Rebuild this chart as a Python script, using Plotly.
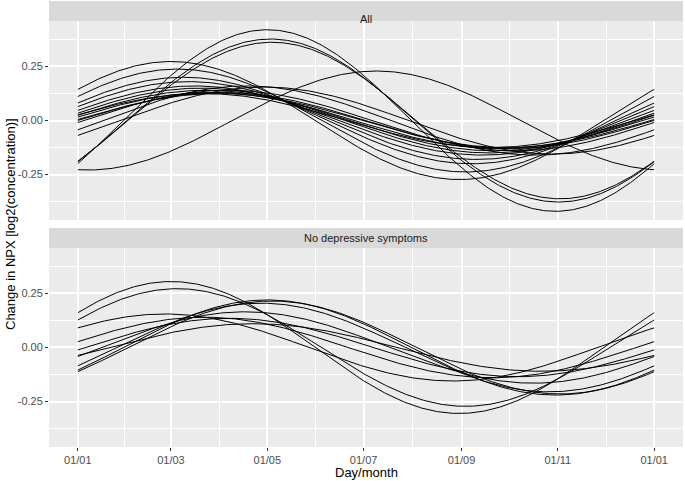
import numpy as np
from plotly import graph_objects as go

# cosinor fits: amplitude (log2 NPX) and day of the peak
all_amplitude = [0.42, 0.377, 0.362, 0.229, 0.273, 0.238, 0.20, 0.18, 0.16, 0.15,
                 0.125, 0.14, 0.13, 0.125, 0.13, 0.14, 0.16, 0.155]
all_peak_day = [120, 122, 123, 189, 59, 63, 67, 70, 74, 78,
                79, 81, 84, 89, 91, 95, 107, 118]

nodep_amplitude = [0.305, 0.272, 0.155, 0.14, 0.135, 0.11, 0.165, 0.205, 0.22, 0.215]
nodep_peak_day = [59, 63, 55, 80, 96, 111, 106, 116, 120, 123]

panel_titles = ["All", "No depressive symptoms"]

tick_days = [0, 59, 120, 181, 243, 304, 365]
tick_labels = ["01/01", "01/03", "01/05", "01/07", "01/09", "01/11", "01/01"]
y_ticks = [-0.25, 0.0, 0.25]
y_labels = ["-0.25", "0.00", "0.25"]

YEAR = 365
days = np.linspace(0, YEAR, 366)

PANEL_BG = "#EBEBEB"
STRIP_BG = "#D9D9D9"

# plot area in paper units (top panel first)
panel_dom = [[0.509, 0.955], [0.0, 0.4462]]
strip_dom = [[0.955, 1.0], [0.4462, 0.491]]

fig = go.Figure()

groups = [(all_amplitude, all_peak_day), (nodep_amplitude, nodep_peak_day)]
for i, (amps, peaks) in enumerate(groups):
    xa = "x" if i == 0 else "x2"
    ya = "y" if i == 0 else "y2"
    for amp, peak in zip(amps, peaks):
        fig.add_trace(go.Scatter(
            x=days,
            y=amp * np.cos(2 * np.pi * (days - peak) / YEAR),
            mode="lines",
            line=dict(color="black", width=1),
            xaxis=xa,
            yaxis=ya,
            hoverinfo="skip",
        ))

minor_x = [(a + b) / 2 for a, b in zip(tick_days[:-1], tick_days[1:])]

x_common = dict(
    range=[-18.25, 383.25],
    tickvals=tick_days,
    ticktext=tick_labels,
    showgrid=True,
    gridcolor="white",
    gridwidth=1.5,
    zeroline=False,
    showline=False,
    automargin=False,
    minor=dict(tickvals=minor_x, showgrid=True, gridcolor="white", gridwidth=0.7),
    tickfont=dict(size=11, color="#4D4D4D"),
)
y_common = dict(
    range=[-0.46, 0.46],
    tickvals=y_ticks,
    ticktext=y_labels,
    showgrid=True,
    gridcolor="white",
    gridwidth=1.5,
    zeroline=False,
    showline=False,
    automargin=False,
    ticks="outside",
    ticklen=3,
    tickcolor="#333333",
    minor=dict(tickvals=[-0.375, -0.125, 0.125, 0.375], showgrid=True,
               gridcolor="white", gridwidth=0.7),
    tickfont=dict(size=11, color="#4D4D4D"),
)

fig.update_layout(
    xaxis=dict(x_common, domain=[0, 1], anchor="y", showticklabels=False, ticks=""),
    yaxis=dict(y_common, domain=panel_dom[0], anchor="x"),
    xaxis2=dict(x_common, domain=[0, 1], anchor="y2", ticks="outside", ticklen=3,
                tickcolor="#333333"),
    yaxis2=dict(y_common, domain=panel_dom[1], anchor="x2"),
)

for i, title in enumerate(panel_titles):
    fig.add_shape(type="rect", xref="paper", yref="paper",
                  x0=0, x1=1, y0=panel_dom[i][0], y1=panel_dom[i][1],
                  fillcolor=PANEL_BG, line_width=0, layer="below")
    fig.add_shape(type="rect", xref="paper", yref="paper",
                  x0=0, x1=1, y0=strip_dom[i][0], y1=strip_dom[i][1],
                  fillcolor=STRIP_BG, line_width=0)
    fig.add_annotation(text=title, xref="paper", yref="paper",
                       x=0.5, y=sum(strip_dom[i]) / 2, showarrow=False,
                       font=dict(size=11, color="#1A1A1A"))

fig.add_annotation(text="Change in NPX [log2(concentration)]", xref="paper", yref="paper",
                   x=0, y=0.5, xshift=-39, xanchor="center", yanchor="middle",
                   textangle=-90, showarrow=False,
                   font=dict(size=13, color="black"))
fig.add_annotation(text="Day/month", xref="paper", yref="paper",
                   x=0.5, y=0, yshift=-25, yanchor="middle", showarrow=False,
                   font=dict(size=13, color="black"))

fig.update_layout(
    width=685,
    height=481,
    autosize=False,
    margin=dict(l=49, r=2, t=1, b=34),
    paper_bgcolor="white",
    plot_bgcolor=PANEL_BG,
    showlegend=False,
    font=dict(family="Liberation Sans, Arial, sans-serif"),
)

# drop the page margin so the figure sits flush in the 685x481 window
fix_page = (
    "document.body.style.margin='0';"
    "document.body.style.overflow='hidden';"
    "Plotly.relayout('{plot_id}', {width: 685, height: 481});"
)

fig.write_html("out.html", config={"responsive": False, "displayModeBar": False},
               default_width="685px", default_height="481px",
               post_script=fix_page)
